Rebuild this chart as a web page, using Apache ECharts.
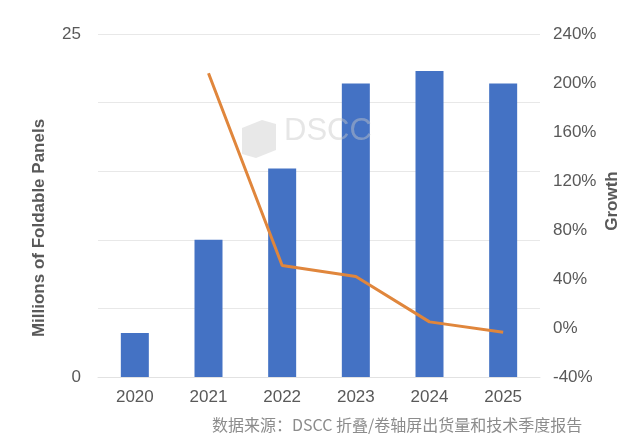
<!DOCTYPE html>
<html><head><meta charset="utf-8">
<script src="https://cdn.jsdelivr.net/npm/echarts@6/dist/echarts.min.js"></script>
<style>html,body{margin:0;padding:0;background:#fff}#c{width:640px;height:448px}</style>
</head><body><div id="c"></div>
<script>
const categories = ['2020', '2021', '2022', '2023', '2024', '2025'];
const panels = [3.2, 10.0, 15.2, 21.4, 22.3, 21.4];
const growth = [null, 208, 51, 42, 5, -3.5];
const leftTitle = 'Millions of Foldable Panels';
const rightTitle = 'Growth';
const sourceText = '数据来源：DSCC 折叠/卷轴屏出货量和技术季度报告';

const chart = echarts.init(document.getElementById('c'));
const labelColor = '#595959';
const ff = 'Liberation Sans, Arial';
chart.setOption({
  animation: false,
  grid: { left: 98, right: 100, top: 34, bottom: 71 },
  xAxis: {
    type: 'category', data: categories,
    axisLine: { lineStyle: { color: '#e2e2e2' } },
    axisTick: { show: false },
    axisLabel: { color: labelColor, fontSize: 17, margin: 12, fontFamily: ff }
  },
  yAxis: [{
    type: 'value', min: 0, max: 25, interval: 5,
    axisLabel: { color: labelColor, fontSize: 17, margin: 17, fontFamily: ff,
      formatter: v => (v === 0 || v === 25) ? String(v) : '' },
    splitLine: { lineStyle: { color: '#e8e8e8' } },
    axisLine: { show: false }, axisTick: { show: false }
  }, {
    type: 'value', min: -40, max: 240, interval: 40, position: 'right',
    axisLabel: { color: labelColor, fontSize: 17, margin: 13, fontFamily: ff, formatter: '{value}%' },
    splitLine: { show: false }, axisLine: { show: false }, axisTick: { show: false }
  }],
  graphic: [
    { type: 'polygon', shape: { points: [[242,128],[262,120],[276,124],[276,150],[256,158],[242,154]] },
      style: { fill: 'rgba(190,190,190,0.35)' }, z: 10 },
    { type: 'text', x: 284, y: 131, style: { text: 'DSCC', fontSize: 31, fill: 'rgba(200,200,200,0.45)',
      fontFamily: ff, textVerticalAlign: 'middle' }, z: 10 },
    { type: 'text', x: 39, y: 228, rotation: Math.PI / 2,
      style: { text: leftTitle, fontSize: 17, fontWeight: 'bold', fill: labelColor,
        fontFamily: ff, textAlign: 'center', textVerticalAlign: 'middle' } },
    { type: 'text', x: 612, y: 201, rotation: Math.PI / 2,
      style: { text: rightTitle, fontSize: 17, fontWeight: 'bold', fill: labelColor,
        fontFamily: ff, textAlign: 'center', textVerticalAlign: 'middle' } },
    { type: 'text', x: 212, y: 425,
      style: { text: sourceText, fontSize: 16, fill: '#8c8c8c',
        fontFamily: 'Noto Sans CJK SC', textVerticalAlign: 'middle' } }
  ],
  series: [{
    type: 'bar', data: panels, barWidth: 28, itemStyle: { color: '#4472C4' }, yAxisIndex: 0, z: 2
  }, {
    type: 'line', data: growth, yAxisIndex: 1, showSymbol: false, symbol: 'none',
    lineStyle: { color: '#E0863C', width: 3 }, z: 3
  }]
});
</script></body></html>
